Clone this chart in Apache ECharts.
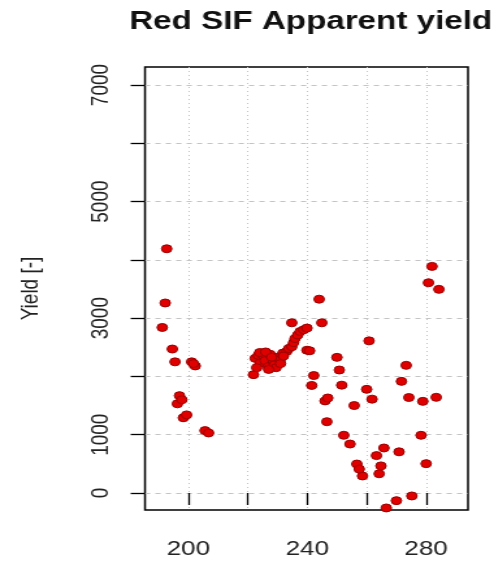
<!DOCTYPE html>
<html><head><meta charset="utf-8">
<script src="https://cdn.jsdelivr.net/npm/echarts@6/dist/echarts.min.js"></script>
<style>
html,body{margin:0;padding:0;background:#fff;overflow:hidden;width:504px;height:564px}
#c{width:387.69px;height:564px;transform:scaleX(1.3);transform-origin:0 0}
</style>
</head><body><div id="c"></div>
<script>
const chartTitle = 'Red SIF Apparent yield';
const yAxisName = 'Yield [-]';
const xValues = [
  192.7, 192.2, 191.2, 194.6, 195.5, 201.1, 202.3, 201.7, 197.0, 196.3, 197.8, 198.3, 199.4, 205.6, 206.8,
  221.9, 222.5, 223.5, 224.1, 225.3, 225.8, 226.9, 227.5, 228.6, 229.0, 230.2, 230.9, 231.8, 233.1, 233.8,
  234.8, 235.4, 235.9, 236.8, 237.6, 238.8, 239.9, 234.8, 239.9, 232.0,
  224.0, 226.0, 228.0, 229.5, 231.0, 227.0, 223.0,
  244.0, 244.9, 240.8, 242.2, 241.5, 250.0, 250.8, 251.6, 246.0, 246.9, 246.6, 255.8, 260.8, 260.0, 261.8,
  273.3, 271.7, 274.2, 278.9, 283.4, 252.3, 254.4, 278.3, 265.8, 270.9, 263.3, 256.7, 258.6, 257.5, 264.8,
  264.2, 280.0, 275.2, 270.0, 266.6, 282.0, 280.8, 284.3
];
const yValues = [
  4190, 3260, 2840, 2470, 2250, 2250, 2180, 2220, 1670, 1530, 1600, 1290, 1340, 1070, 1030,
  2030, 2310, 2360, 2230, 2340, 2270, 2170, 2380, 2250, 2200, 2330, 2290, 2400, 2430, 2480,
  2510, 2580, 2650, 2710, 2770, 2800, 2830, 2920, 2450, 2350,
  2410, 2420, 2330, 2150, 2220, 2120, 2150,
  3325, 2920, 2440, 2015, 1845, 2327, 2110, 1850, 1580, 1630, 1223, 1500, 2610, 1779, 1610,
  2190, 1915, 1638, 1572, 1641, 990, 840, 990, 772, 706, 641, 497, 292, 410, 465,
  330, 503, -51, -132, -257, 3888, 3607, 3494
];
const xTicks = [200, 220, 240, 260, 280];
const xTickLabels = [200, 240, 280];
const yTicks = [0, 1000, 2000, 3000, 4000, 5000, 6000, 7000];
const yTickLabels = [0, 1000, 3000, 5000, 7000];

const points = xValues.map((x, i) => [x, yValues[i]]);
const font = 'Liberation Sans, Arial, Helvetica, sans-serif';
const chart = echarts.init(document.getElementById('c'));
chart.setOption({
  animation: false,
  backgroundColor: '#fff',
  title: {
    text: chartTitle,
    left: 234, textAlign: 'center', top: 4,
    textStyle: { fontFamily: font, fontSize: 25.5, fontWeight: 'bold', color: '#111' }
  },
  grid: {
    left: 111.54, top: 67, width: 248.46, height: 443,
    show: true, borderColor: '#000', borderWidth: 1.5, backgroundColor: 'transparent'
  },
  xAxis: {
    type: 'value', min: 185.4, max: 294.1,
    axisLine: { show: false },
    axisTick: { show: true, customValues: xTicks, length: 12, lineStyle: { color: '#000', width: 1.3 } },
    axisLabel: { customValues: xTickLabels, margin: 29, fontFamily: font, fontSize: 20, color: '#222',
      formatter: v => String(v) },
    splitLine: { show: true, lineStyle: { color: '#c4c4c4', type: [1, 3], width: 1 } }
  },
  yAxis: {
    type: 'value', min: -292, max: 7309,
    name: yAxisName, nameLocation: 'middle', nameGap: 78,
    nameTextStyle: { fontFamily: font, fontSize: 19, color: '#222' },
    axisLine: { show: false },
    axisTick: { show: true, customValues: yTicks, length: 11, lineStyle: { color: '#000', width: 1.3 } },
    axisLabel: { customValues: yTickLabels, rotate: 90, margin: 24, fontFamily: font, fontSize: 19, color: '#222',
      formatter: v => String(v) },
    splitLine: { show: true, lineStyle: { color: '#c4c4c4', type: [4, 4], width: 1 } }
  },
  series: [{
    type: 'scatter', data: points, symbol: 'circle', symbolSize: 8,
    itemStyle: { color: '#e00000', borderColor: '#9a0000', borderWidth: 1, opacity: 1 }
  }]
});
</script>
</body></html>
